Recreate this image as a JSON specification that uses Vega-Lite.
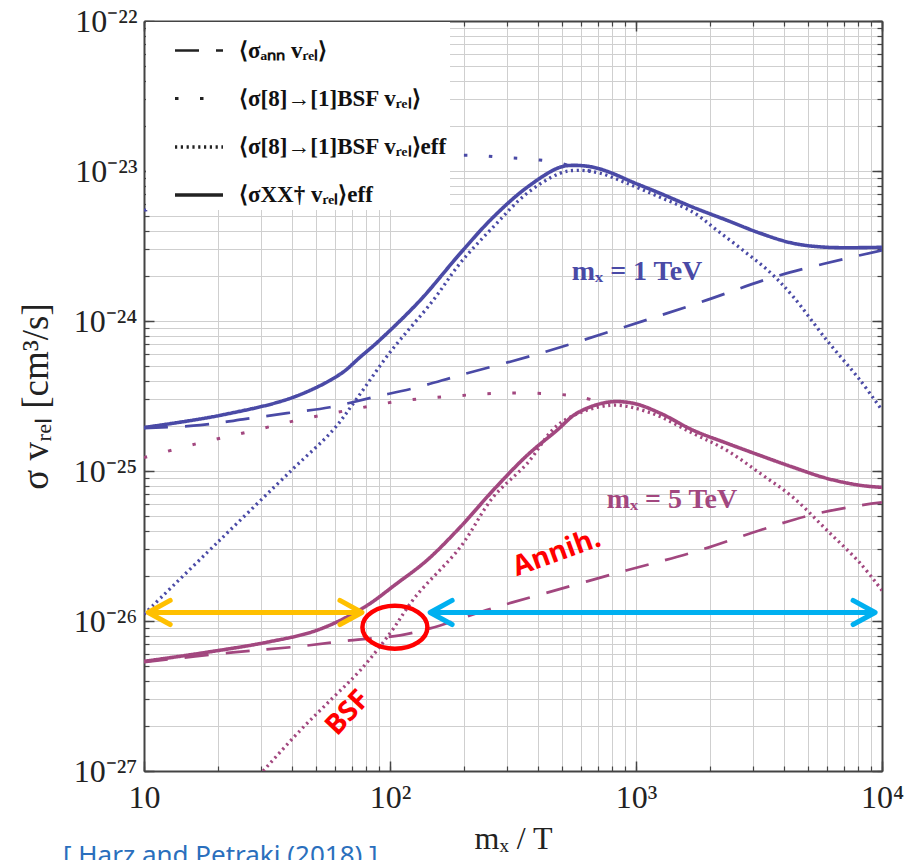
{
"$schema": "https://vega.github.io/schema/vega-lite/v6.json",
"width": 738, "height": 750,
"autosize": "none",
"padding": {"left": 144, "top": 21, "right": 39, "bottom": 89},
"background": "white",
"config": {"view": {"stroke": null}, "axis": {"labelFont": "Liberation Serif", "titleFont": "Liberation Serif"}},
"title": {"text": "[ Harz and Petraki (2018) ]", "orient": "bottom", "anchor": "start", "frame": "group", "offset": -11, "dx": -81, "baseline": "top", "font": "Noto Sans", "fontSize": 26, "fontWeight": "normal", "color": "#2a6fbd"},
"datasets": {
"curves": [
{"mass":"1 TeV","kind":"total","x":10,"y":1.95e-25},{"mass":"1 TeV","kind":"total","x":20.4,"y":2.35e-25},{"mass":"1 TeV","kind":"total","x":40.4,"y":3.10e-25},{"mass":"1 TeV","kind":"total","x":62.7,"y":4.42e-25},{"mass":"1 TeV","kind":"total","x":75.5,"y":5.73e-25},{"mass":"1 TeV","kind":"total","x":91,"y":7.48e-25},{"mass":"1 TeV","kind":"total","x":132.4,"y":1.37e-24},{"mass":"1 TeV","kind":"total","x":192.8,"y":2.82e-24},{"mass":"1 TeV","kind":"total","x":262.4,"y":4.91e-24},{"mass":"1 TeV","kind":"total","x":360.6,"y":7.78e-24},{"mass":"1 TeV","kind":"total","x":490.9,"y":1.06e-23},{"mass":"1 TeV","kind":"total","x":564.9,"y":1.09e-23},{"mass":"1 TeV","kind":"total","x":669.9,"y":1.06e-23},{"mass":"1 TeV","kind":"total","x":783.4,"y":9.79e-24},{"mass":"1 TeV","kind":"total","x":972.9,"y":8.41e-24},{"mass":"1 TeV","kind":"total","x":1253,"y":7.10e-24},{"mass":"1 TeV","kind":"total","x":1706,"y":5.73e-24},{"mass":"1 TeV","kind":"total","x":2344,"y":4.69e-24},{"mass":"1 TeV","kind":"total","x":3192,"y":3.85e-24},{"mass":"1 TeV","kind":"total","x":4345,"y":3.30e-24},{"mass":"1 TeV","kind":"total","x":5970,"y":3.10e-24},{"mass":"1 TeV","kind":"total","x":10000,"y":3.10e-24},
{"mass":"1 TeV","kind":"ann","x":10,"y":1.93e-25},{"mass":"1 TeV","kind":"ann","x":16.9,"y":2.02e-25},{"mass":"1 TeV","kind":"ann","x":25.2,"y":2.21e-25},{"mass":"1 TeV","kind":"ann","x":38.1,"y":2.43e-25},{"mass":"1 TeV","kind":"ann","x":57,"y":2.66e-25},{"mass":"1 TeV","kind":"ann","x":85.3,"y":3.10e-25},{"mass":"1 TeV","kind":"ann","x":128.8,"y":3.61e-25},{"mass":"1 TeV","kind":"ann","x":192.8,"y":4.35e-25},{"mass":"1 TeV","kind":"ann","x":407.4,"y":6.09e-25},{"mass":"1 TeV","kind":"ann","x":861,"y":8.93e-25},{"mass":"1 TeV","kind":"ann","x":1820,"y":1.33e-24},{"mass":"1 TeV","kind":"ann","x":3846,"y":2.02e-24},{"mass":"1 TeV","kind":"ann","x":10000,"y":2.96e-24},
{"mass":"1 TeV","kind":"bsf_eff","x":10,"y":1.11e-26},{"mass":"1 TeV","kind":"bsf_eff","x":20,"y":3.37e-26},{"mass":"1 TeV","kind":"bsf_eff","x":40,"y":1.02e-25},{"mass":"1 TeV","kind":"bsf_eff","x":58.6,"y":1.87e-25},{"mass":"1 TeV","kind":"bsf_eff","x":73.4,"y":3.05e-25},{"mass":"1 TeV","kind":"bsf_eff","x":100,"y":6.18e-25},{"mass":"1 TeV","kind":"bsf_eff","x":149.6,"y":1.37e-24},{"mass":"1 TeV","kind":"bsf_eff","x":192.8,"y":2.43e-24},{"mass":"1 TeV","kind":"bsf_eff","x":262.4,"y":4.22e-24},{"mass":"1 TeV","kind":"bsf_eff","x":360.6,"y":7.10e-24},{"mass":"1 TeV","kind":"bsf_eff","x":490.9,"y":9.66e-24},{"mass":"1 TeV","kind":"bsf_eff","x":575.4,"y":1.01e-23},{"mass":"1 TeV","kind":"bsf_eff","x":714.5,"y":9.66e-24},{"mass":"1 TeV","kind":"bsf_eff","x":918.4,"y":8.28e-24},{"mass":"1 TeV","kind":"bsf_eff","x":1253,"y":6.68e-24},{"mass":"1 TeV","kind":"bsf_eff","x":1706,"y":5.31e-24},{"mass":"1 TeV","kind":"bsf_eff","x":2133,"y":4.03e-24},{"mass":"1 TeV","kind":"bsf_eff","x":2723,"y":2.96e-24},{"mass":"1 TeV","kind":"bsf_eff","x":3508,"y":2.11e-24},{"mass":"1 TeV","kind":"bsf_eff","x":4345,"y":1.46e-24},{"mass":"1 TeV","kind":"bsf_eff","x":5970,"y":7.43e-25},{"mass":"1 TeV","kind":"bsf_eff","x":8147,"y":4.03e-25},{"mass":"1 TeV","kind":"bsf_eff","x":10000,"y":2.54e-25},
{"mass":"1 TeV","kind":"bsf","x":10,"y":5.47e-24},{"mass":"1 TeV","kind":"bsf","x":16.1,"y":6.38e-24},{"mass":"1 TeV","kind":"bsf","x":26,"y":7.43e-24},{"mass":"1 TeV","kind":"bsf","x":41.9,"y":8.93e-24},{"mass":"1 TeV","kind":"bsf","x":67.5,"y":1.01e-23},{"mass":"1 TeV","kind":"bsf","x":108.9,"y":1.14e-23},{"mass":"1 TeV","kind":"bsf","x":138.7,"y":1.23e-23},{"mass":"1 TeV","kind":"bsf","x":177.1,"y":1.27e-23},{"mass":"1 TeV","kind":"bsf","x":225.9,"y":1.27e-23},{"mass":"1 TeV","kind":"bsf","x":287.7,"y":1.23e-23},{"mass":"1 TeV","kind":"bsf","x":370.7,"y":1.20e-23},{"mass":"1 TeV","kind":"bsf","x":477.5,"y":1.14e-23},{"mass":"1 TeV","kind":"bsf","x":591.6,"y":1.04e-23},{"mass":"1 TeV","kind":"bsf","x":714.5,"y":9.66e-24},
{"mass":"5 TeV","kind":"total","x":10,"y":5.38e-27},{"mass":"5 TeV","kind":"total","x":16.9,"y":6.09e-27},{"mass":"5 TeV","kind":"total","x":31.6,"y":7.22e-27},{"mass":"5 TeV","kind":"total","x":50.5,"y":8.68e-27},{"mass":"5 TeV","kind":"total","x":77.6,"y":1.22e-26},{"mass":"5 TeV","kind":"total","x":106.7,"y":1.78e-26},{"mass":"5 TeV","kind":"total","x":141.3,"y":2.54e-26},{"mass":"5 TeV","kind":"total","x":192.8,"y":4.22e-26},{"mass":"5 TeV","kind":"total","x":262.4,"y":7.43e-26},{"mass":"5 TeV","kind":"total","x":360.6,"y":1.27e-25},{"mass":"5 TeV","kind":"total","x":477.5,"y":1.87e-25},{"mass":"5 TeV","kind":"total","x":575.4,"y":2.43e-25},{"mass":"5 TeV","kind":"total","x":762.1,"y":2.87e-25},{"mass":"5 TeV","kind":"total","x":972.9,"y":2.83e-25},{"mass":"5 TeV","kind":"total","x":1253,"y":2.43e-25},{"mass":"5 TeV","kind":"total","x":1706,"y":1.87e-25},{"mass":"5 TeV","kind":"total","x":2344,"y":1.53e-25},{"mass":"5 TeV","kind":"total","x":3192,"y":1.27e-25},{"mass":"5 TeV","kind":"total","x":4345,"y":1.06e-25},{"mass":"5 TeV","kind":"total","x":5970,"y":8.93e-26},{"mass":"5 TeV","kind":"total","x":8147,"y":8.03e-26},{"mass":"5 TeV","kind":"total","x":10000,"y":7.78e-26},
{"mass":"5 TeV","kind":"ann","x":10,"y":5.31e-27},{"mass":"5 TeV","kind":"ann","x":23,"y":6.18e-27},{"mass":"5 TeV","kind":"ann","x":43.1,"y":6.78e-27},{"mass":"5 TeV","kind":"ann","x":68.7,"y":7.43e-27},{"mass":"5 TeV","kind":"ann","x":109.9,"y":8.03e-27},{"mass":"5 TeV","kind":"ann","x":145.6,"y":8.93e-27},{"mass":"5 TeV","kind":"ann","x":262.4,"y":1.22e-26},{"mass":"5 TeV","kind":"ann","x":396.3,"y":1.48e-26},{"mass":"5 TeV","kind":"ann","x":918.4,"y":2.18e-26},{"mass":"5 TeV","kind":"ann","x":1706,"y":2.87e-26},{"mass":"5 TeV","kind":"ann","x":3192,"y":4.03e-26},{"mass":"5 TeV","kind":"ann","x":5093,"y":5.07e-26},{"mass":"5 TeV","kind":"ann","x":8147,"y":5.90e-26},{"mass":"5 TeV","kind":"ann","x":10000,"y":6.18e-26},
{"mass":"5 TeV","kind":"bsf_eff","x":30.5,"y":1e-27},{"mass":"5 TeV","kind":"bsf_eff","x":43.1,"y":1.86e-27},{"mass":"5 TeV","kind":"bsf_eff","x":58.6,"y":3.08e-27},{"mass":"5 TeV","kind":"bsf_eff","x":75.5,"y":4.67e-27},{"mass":"5 TeV","kind":"bsf_eff","x":100,"y":8.28e-27},{"mass":"5 TeV","kind":"bsf_eff","x":126.4,"y":1.44e-26},{"mass":"5 TeV","kind":"bsf_eff","x":192.8,"y":3.10e-26},{"mass":"5 TeV","kind":"bsf_eff","x":262.4,"y":6.68e-26},{"mass":"5 TeV","kind":"bsf_eff","x":360.6,"y":1.12e-25},{"mass":"5 TeV","kind":"bsf_eff","x":490.9,"y":2.08e-25},{"mass":"5 TeV","kind":"bsf_eff","x":783.4,"y":2.74e-25},{"mass":"5 TeV","kind":"bsf_eff","x":1140,"y":2.45e-25},{"mass":"5 TeV","kind":"bsf_eff","x":1706,"y":1.78e-25},{"mass":"5 TeV","kind":"bsf_eff","x":2344,"y":1.37e-25},{"mass":"5 TeV","kind":"bsf_eff","x":3192,"y":9.66e-26},{"mass":"5 TeV","kind":"bsf_eff","x":4345,"y":6.68e-26},{"mass":"5 TeV","kind":"bsf_eff","x":5970,"y":4.03e-26},{"mass":"5 TeV","kind":"bsf_eff","x":8147,"y":2.43e-26},{"mass":"5 TeV","kind":"bsf_eff","x":10000,"y":1.60e-26},
{"mass":"5 TeV","kind":"bsf","x":10,"y":1.23e-25},{"mass":"5 TeV","kind":"bsf","x":16.1,"y":1.51e-25},{"mass":"5 TeV","kind":"bsf","x":26,"y":1.81e-25},{"mass":"5 TeV","kind":"bsf","x":41.9,"y":2.18e-25},{"mass":"5 TeV","kind":"bsf","x":67.5,"y":2.54e-25},{"mass":"5 TeV","kind":"bsf","x":108.9,"y":2.92e-25},{"mass":"5 TeV","kind":"bsf","x":177.1,"y":3.15e-25},{"mass":"5 TeV","kind":"bsf","x":287.7,"y":3.30e-25},{"mass":"5 TeV","kind":"bsf","x":477.5,"y":3.25e-25},{"mass":"5 TeV","kind":"bsf","x":602.6,"y":3.10e-25},{"mass":"5 TeV","kind":"bsf","x":783.4,"y":2.74e-25}
],
"masslabels": [{"label":"mₓ = 1 TeV","mass":"1 TeV","x":1010,"y":2.11e-24},{"label":"mₓ = 5 TeV","mass":"5 TeV","x":1400,"y":6.38e-26}],
"annih": [{"label":"Annih.","x":477,"y":2.83e-26}],
"bsfnote": [{"label":"BSF","x":67.5,"y":2.43e-27}],
"crossing": [{"x":104.7,"y":9.08e-27}],
"arrows": [{"arrow":"A","x_from":10.4,"x_to":76.9,"y":1.14e-26},{"arrow":"B","x_from":145.6,"x_to":9375,"y":1.14e-26}],
"heads": [{"arrow":"A","dir":"left","x":10.4,"y":1.14e-26},{"arrow":"A","dir":"right","x":76.9,"y":1.14e-26},{"arrow":"B","dir":"left","x":145.6,"y":1.14e-26},{"arrow":"B","dir":"right","x":9375,"y":1.14e-26}]
},
"resolve": {"axis": {"x": "independent", "y": "independent"}},
"layer": [
{
"data": {"name": "curves"},
"mark": {"type": "line", "interpolate": "catmull-rom", "clip": true, "strokeCap": "butt"},
"encoding": {
"x": {"field": "x", "type": "quantitative", "scale": {"type": "log", "domain": [10, 10000], "nice": false},
 "axis": {"orient": "bottom", "values": [10, 100, 1000, 10000], "labelExpr": "['10','10²','10³','10⁴'][round(log(datum.value)/LN10)-1]", "tickSize": -10, "tickColor": "#444", "tickWidth": 1.5, "labelPadding": 21, "labelFontSize": 32, "labelColor": "#222", "labelFlush": false, "labelOverlap": false, "labelBound": false, "grid": false, "domain": true, "domainColor": "#444", "domainWidth": 2, "title": "mₓ / T", "titleFontSize": 32, "titleFontWeight": "normal", "titleColor": "#222", "titlePadding": 10}},
"y": {"field": "y", "type": "quantitative", "scale": {"type": "log", "domain": [1e-27, 1e-22], "nice": false},
 "axis": {"orient": "left", "values": [1e-27, 1e-26, 1e-25, 1e-24, 1e-23, 1e-22], "labelExpr": "['10⁻²⁷','10⁻²⁶','10⁻²⁵','10⁻²⁴','10⁻²³','10⁻²²'][round(log(datum.value)/LN10)+27]", "tickSize": -10, "tickColor": "#444", "tickWidth": 1.5, "labelPadding": 17, "labelFontSize": 32, "labelColor": "#222", "labelFlush": false, "labelOverlap": false, "labelBound": false, "grid": false, "domain": true, "domainColor": "#444", "domainWidth": 2, "title": "σ vᵣₑₗ   [cm³/s]", "titleFontSize": 37, "titleFontWeight": "normal", "titleColor": "#222", "titlePadding": 18}},
"color": {"field": "mass", "type": "nominal", "scale": {"domain": ["1 TeV", "5 TeV"], "range": ["#4a4aa6", "#a2477f"]}, "legend": null},
"strokeDash": {"field": "kind", "type": "nominal", "scale": {"domain": ["ann", "bsf", "bsf_eff", "total"], "range": [[24, 17], [3.5, 21.5], [2.2, 3.6], [1, 0]]},
 "legend": {"title": null, "orient": "none", "legendX": 2, "legendY": 1, "symbolType": "stroke", "symbolSize": 2304, "symbolStrokeWidth": 2.8, "symbolStrokeColor": "#222", "symbolOffset": 24, "labelOffset": 14, "labelFont": "Liberation Serif", "labelFontSize": 23, "labelFontWeight": "bold", "labelColor": "#111", "labelLimit": 400, "rowPadding": 10, "padding": 3, "fillColor": "white",
  "labelExpr": "datum.label == 'ann' ? '⟨σₐₙₙ vᵣₑₗ⟩' : datum.label == 'bsf' ? '⟨σ[8]→[1]BSF vᵣₑₗ⟩' : datum.label == 'bsf_eff' ? '⟨σ[8]→[1]BSF vᵣₑₗ⟩eff' : '⟨σXX† vᵣₑₗ⟩eff'"}},
"strokeWidth": {"field": "kind", "type": "ordinal", "scale": {"domain": ["ann", "bsf", "bsf_eff", "total"], "range": [2.7, 3.6, 2.4, 3.0]}, "legend": null}
}
},
{
"data": {"name": "masslabels"},
"mark": {"type": "text", "font": "Liberation Serif", "fontSize": 28, "fontWeight": "bold", "align": "center", "baseline": "middle"},
"encoding": {
"x": {"field": "x", "type": "quantitative", "scale": {"type": "log", "domain": [10, 10000], "nice": false},
 "axis": {"orient": "bottom", "values": [10,20,30,40,50,60,70,80,90,100,200,300,400,500,600,700,800,900,1000,2000,3000,4000,5000,6000,7000,8000,9000,10000], "labels": false, "tickSize": -5, "tickColor": "#444", "tickWidth": 1.2, "grid": true, "gridColor": "#cfcfcf", "gridWidth": 1, "domain": false, "title": null}},
"y": {"field": "y", "type": "quantitative", "scale": {"type": "log", "domain": [1e-27, 1e-22], "nice": false},
 "axis": {"orient": "left", "values": [1e-27,2e-27,3e-27,4e-27,5e-27,6e-27,7e-27,8e-27,9e-27,1e-26,2e-26,3e-26,4e-26,5e-26,6e-26,7e-26,8e-26,9e-26,1e-25,2e-25,3e-25,4e-25,5e-25,6e-25,7e-25,8e-25,9e-25,1e-24,2e-24,3e-24,4e-24,5e-24,6e-24,7e-24,8e-24,9e-24,1e-23,2e-23,3e-23,4e-23,5e-23,6e-23,7e-23,8e-23,9e-23,1e-22], "labels": false, "tickSize": -5, "tickColor": "#444", "tickWidth": 1.2, "grid": true, "gridColor": "#cfcfcf", "gridWidth": 1, "domain": false, "title": null}},
"text": {"field": "label"},
"color": {"field": "mass", "type": "nominal", "scale": {"domain": ["1 TeV", "5 TeV"], "range": ["#4a4aa6", "#a2477f"]}, "legend": null}
}
},
{
"data": {"name": "annih"},
"mark": {"type": "text", "font": "Open Sans", "fontSize": 28, "fontWeight": "bold", "color": "#ff0000", "angle": -20, "align": "center", "baseline": "middle"},
"encoding": {
"x": {"field": "x", "type": "quantitative", "scale": {"type": "log", "domain": [10, 10000], "nice": false}, "axis": null},
"y": {"field": "y", "type": "quantitative", "scale": {"type": "log", "domain": [1e-27, 1e-22], "nice": false}, "axis": null},
"text": {"field": "label"}
}
},
{
"data": {"name": "bsfnote"},
"mark": {"type": "text", "font": "Open Sans", "fontSize": 28, "fontWeight": "bold", "color": "#ff0000", "angle": -47, "align": "center", "baseline": "middle"},
"encoding": {
"x": {"field": "x", "type": "quantitative", "scale": {"type": "log", "domain": [10, 10000], "nice": false}, "axis": null},
"y": {"field": "y", "type": "quantitative", "scale": {"type": "log", "domain": [1e-27, 1e-22], "nice": false}, "axis": null},
"text": {"field": "label"}
}
},
{
"data": {"name": "crossing"},
"mark": {"type": "point", "filled": false, "stroke": "#ff0000", "strokeWidth": 4.5, "opacity": 1, "size": 4225, "shape": "M -1 0 A 1 0.66 0 1 1 1 0 A 1 0.66 0 1 1 -1 0 Z"},
"encoding": {
"x": {"field": "x", "type": "quantitative", "scale": {"type": "log", "domain": [10, 10000], "nice": false}, "axis": null},
"y": {"field": "y", "type": "quantitative", "scale": {"type": "log", "domain": [1e-27, 1e-22], "nice": false}, "axis": null}
}
},
{
"data": {"name": "arrows"},
"mark": {"type": "rule", "strokeWidth": 5, "strokeCap": "butt"},
"encoding": {
"x": {"field": "x_from", "type": "quantitative", "scale": {"type": "log", "domain": [10, 10000], "nice": false},
 "axis": {"orient": "top", "values": [10, 100, 1000, 10000], "labels": false, "tickSize": -10, "tickColor": "#444", "tickWidth": 1.5, "grid": false, "domain": true, "domainColor": "#444", "domainWidth": 2, "title": null}},
"x2": {"field": "x_to"},
"y": {"field": "y", "type": "quantitative", "scale": {"type": "log", "domain": [1e-27, 1e-22], "nice": false},
 "axis": {"orient": "right", "values": [1e-27, 1e-26, 1e-25, 1e-24, 1e-23, 1e-22], "labels": false, "tickSize": -10, "tickColor": "#444", "tickWidth": 1.5, "grid": false, "domain": true, "domainColor": "#444", "domainWidth": 2, "title": null}},
"stroke": {"field": "arrow", "type": "nominal", "scale": {"domain": ["A", "B"], "range": ["#ffc000", "#00b0f0"]}, "legend": null}
}
},
{
"data": {"name": "heads"},
"mark": {"type": "point", "filled": false, "strokeWidth": 5, "strokeCap": "round", "strokeJoin": "round", "size": 1936, "opacity": 1},
"encoding": {
"x": {"field": "x", "type": "quantitative", "scale": {"type": "log", "domain": [10, 10000], "nice": false},
 "axis": {"orient": "top", "values": [10,20,30,40,50,60,70,80,90,100,200,300,400,500,600,700,800,900,1000,2000,3000,4000,5000,6000,7000,8000,9000,10000], "labels": false, "tickSize": -5, "tickColor": "#444", "tickWidth": 1.2, "grid": false, "domain": false, "title": null}},
"y": {"field": "y", "type": "quantitative", "scale": {"type": "log", "domain": [1e-27, 1e-22], "nice": false},
 "axis": {"orient": "right", "values": [1e-27,2e-27,3e-27,4e-27,5e-27,6e-27,7e-27,8e-27,9e-27,1e-26,2e-26,3e-26,4e-26,5e-26,6e-26,7e-26,8e-26,9e-26,1e-25,2e-25,3e-25,4e-25,5e-25,6e-25,7e-25,8e-25,9e-25,1e-24,2e-24,3e-24,4e-24,5e-24,6e-24,7e-24,8e-24,9e-24,1e-23,2e-23,3e-23,4e-23,5e-23,6e-23,7e-23,8e-23,9e-23,1e-22], "labels": false, "tickSize": -5, "tickColor": "#444", "tickWidth": 1.2, "grid": false, "domain": false, "title": null}},
"shape": {"field": "dir", "type": "nominal", "scale": {"domain": ["left", "right"], "range": ["M 1 -0.55 L 0 0 L 1 0.55", "M -1 -0.55 L 0 0 L -1 0.55"]}, "legend": null},
"stroke": {"field": "arrow", "type": "nominal", "scale": {"domain": ["A", "B"], "range": ["#ffc000", "#00b0f0"]}, "legend": null}
}
}
]
}
